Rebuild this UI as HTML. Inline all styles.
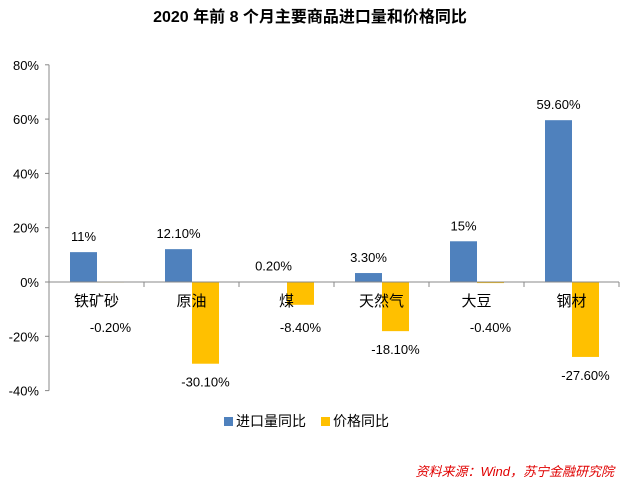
<!DOCTYPE html>
<html><head><meta charset="utf-8"><style>
body{margin:0;background:#fff;}
svg text{font-family:"Liberation Sans","Noto Sans CJK SC",sans-serif;}
</style></head><body>
<svg id="c" width="621" height="481">
<text x="310" y="22" text-anchor="middle" font-size="16" font-weight="bold" fill="#000">2020 年前 8 个月主要商品进口量和价格同比</text>
<g id="plot"></g>
<g>
<rect x="224" y="417" width="9" height="9" fill="#4f81bd"/>
<text x="236" y="426" font-size="14">进口量同比</text>
<rect x="321" y="417" width="9" height="9" fill="#ffc000"/>
<text x="333" y="426" font-size="14">价格同比</text>
</g>
<text x="614" y="476" text-anchor="end" font-size="13" font-style="italic" fill="#e00000">资料来源：Wind，苏宁金融研究院</text>
</svg>
<script>
const categories=["铁矿砂","原油","煤","天然气","大豆","钢材"];
const importVals=[11,12.1,0.2,3.3,15,59.6];
const priceVals=[-0.2,-30.1,-8.4,-18.1,-0.4,-27.6];
const importLabels=["11%","12.10%","0.20%","3.30%","15%","59.60%"];
const priceLabels=["-0.20%","-30.10%","-8.40%","-18.10%","-0.40%","-27.60%"];
const yTicks=[80,60,40,20,0,-20,-40];
const NS="http://www.w3.org/2000/svg";
const g=document.getElementById('plot');
const x0=49,cw=95,zeroY=282,pxPer=54.3/20;
const y=v=>zeroY-v*pxPer;
function mk(t,a){const e=document.createElementNS(NS,t);for(const k in a)e.setAttribute(k,a[k]);g.appendChild(e);return e;}
let ax=mk('line',{x1:x0,y1:y(80),x2:x0,y2:y(-40),stroke:'#888'});


yTicks.forEach(t=>{
 const tl=mk('line',{x1:x0-4,y1:y(t),x2:x0,y2:y(t),stroke:'#888'});
 
 
 const tx=mk('text',{x:x0-10,y:y(t)+5,'text-anchor':'end','font-size':13});
 tx.textContent=t+'%';
 
 
});
categories.forEach((c,i)=>{
 const cx=x0+i*cw;
 const tk=mk('line',{x1:cx+cw,y1:zeroY,x2:cx+cw,y2:zeroY+5,stroke:'#888'});
 
 
 const bv=importVals[i],pv=priceVals[i];
 const b=mk('rect',{x:cx+21,y:Math.min(y(bv),zeroY),width:27,height:Math.abs(y(bv)-zeroY),fill:'#4f81bd'});
 
 
 const p=mk('rect',{x:cx+48,y:Math.min(y(pv),zeroY),width:27,height:Math.abs(y(pv)-zeroY),fill:'#ffc000'});
 
 
 const bl=mk('text',{x:cx+34.5,y:Math.min(y(bv),zeroY)-11,'text-anchor':'middle','font-size':13});
 bl.textContent=importLabels[i];
 
 
 const pl=mk('text',{x:cx+61.5,y:Math.max(y(pv)+23,zeroY+50),'text-anchor':'middle','font-size':13});
 pl.textContent=priceLabels[i];
 
 
 const cl=mk('text',{x:cx+47.5,y:zeroY+24,'text-anchor':'middle','font-size':15});
 cl.textContent=c;
 
 
});
const xl=mk('line',{x1:x0,y1:zeroY,x2:x0+6*cw,y2:zeroY,stroke:'#888'});


</script>
</body></html>
